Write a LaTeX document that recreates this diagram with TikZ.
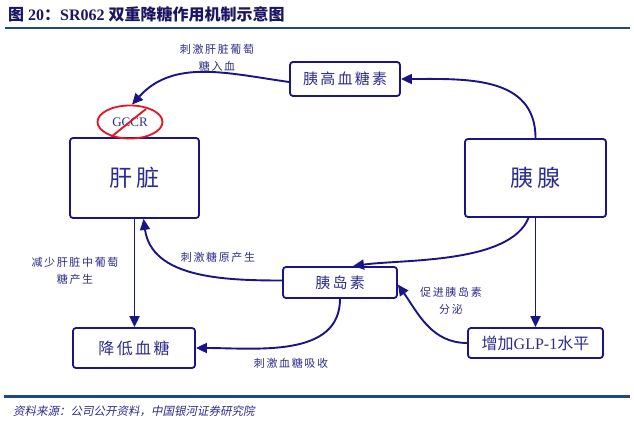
\documentclass[tikz,border=0pt]{standalone}
\usepackage{fontspec}
\setmainfont{Liberation Serif}
\newfontfamily\cjk{Noto Sans CJK SC}
\newfontfamily\cjksp[LetterSpace=15]{Noto Sans CJK SC}
\newfontfamily\cjkit[FakeSlant=0.2]{Noto Sans CJK SC}
\usetikzlibrary{arrows.meta,shapes.geometric}
\definecolor{navy}{RGB}{25,20,135}
\definecolor{textc}{RGB}{45,45,140}
\definecolor{titlec}{RGB}{27,22,100}
\definecolor{rulec}{RGB}{31,74,125}
\definecolor{redc}{RGB}{235,20,30}
\tikzset{
  box/.style={draw=navy, line width=1.8pt, rounded corners=3pt, fill=white, text=textc, inner sep=0pt, font=\cjk},
  conn/.style={draw=navy, line width=1.9pt, -{Triangle[length=11pt,width=10pt]}},
  lab/.style={text=textc, align=center, font=\cjksp\fontsize{11}{17}\selectfont, inner sep=0pt},
}
\begin{document}
\begin{tikzpicture}[x=1pt,y=1pt]
\useasboundingbox (0,0) rectangle (634,-438);
% title and rules
\node[anchor=west, text=titlec, inner sep=0pt, font=\fontsize{16}{18}\selectfont\bfseries] (title) at (8,-14)
  {{\cjk\bfseries 图} 20{\cjk\bfseries ：}SR062 {\cjk\bfseries 双重降糖作用机制示意图}};
\coordinate (r1a) at (5,-28); \coordinate (r1b) at (630,-28);
\draw[rulec, line width=2.5pt] (r1a) -- (r1b);
\coordinate (r2a) at (4,-396.5); \coordinate (r2b) at (630,-396.5);
\draw[rulec, line width=2.5pt] (r2a) -- (r2b);
\node[anchor=west, text=textc, inner sep=0pt, font=\cjkit\fontsize{11.5}{14}\selectfont] (src) at (13,-411)
  {资料来源：公司公开资料，中国银河证券研究院};

% boxes
\node[box, minimum width=110pt, minimum height=34pt, font=\cjksp\fontsize{15}{17}\selectfont] (gluc) at (345,-79) {胰高血糖素};
\node[box, minimum width=141pt, minimum height=78pt, font=\cjksp\fontsize{23}{25}\selectfont] (pan) at (535.5,-178) {胰腺};
\node[box, minimum width=129pt, minimum height=80pt, font=\cjksp\fontsize{23}{25}\selectfont] (liver) at (134.5,-178) {肝脏};
\node[box, minimum width=114pt, minimum height=31pt, font=\cjksp\fontsize{15}{17}\selectfont] (ins) at (340,-282.5) {胰岛素};
\node[box, minimum width=135pt, minimum height=30pt, font=\fontsize{16}{18}\selectfont] (glp) at (535.5,-343) {{\cjk 增加}GLP-1{\cjk 水平}};
\node[box, minimum width=122pt, minimum height=40pt, font=\cjksp\fontsize{16}{18}\selectfont] (low) at (134,-348) {降低血糖};

% GCCR
\node[draw=redc, line width=1.8pt, ellipse, minimum width=65pt, minimum height=33pt, inner sep=0pt, text=textc, font=\fontsize{13}{15}\selectfont] (gccr) at (130,-122) {GCCR};
\coordinate (sl1) at (146,-109);
\coordinate (sl2) at (111,-137);
\draw[redc, line width=1.8pt] (sl1) -- (sl2);

% connectors
\draw[conn] (pan.north) to[out=90,in=0,looseness=1.1] (gluc.east);
\draw[conn] ([yshift=-3pt]gluc.west) to[out=172,in=48,looseness=1] ([xshift=2pt]gccr.north);
\draw[conn] (liver.south) -- (liver.south |- low.north);
\draw[conn] (pan.south) -- (glp.north);
\draw[conn] (glp.west) to[out=180,in=-55,looseness=1] ([yshift=-2pt]ins.east);
\draw[conn] ([xshift=-7pt]pan.south) to[out=-112,in=8,looseness=0.7] ([xshift=13pt]ins.north);
\draw[conn] ([yshift=2pt]ins.west) to[out=180,in=-82,looseness=1] ([xshift=9pt]liver.south);
\draw[conn] (ins.south) to[out=-90,in=0,looseness=1] (low.east);

% labels
\node[lab] (l1) at (217,-58) {刺激肝脏葡萄\\糖入血};
\node[lab] (l2) at (218,-257) {刺激糖原产生};
\node[lab] (l3) at (75,-271) {减少肝脏中葡萄\\糖产生};
\node[lab] (l4) at (451,-301) {促进胰岛素\\分泌};
\node[lab] (l5) at (291,-363) {刺激血糖吸收};
\end{tikzpicture}
\end{document}
